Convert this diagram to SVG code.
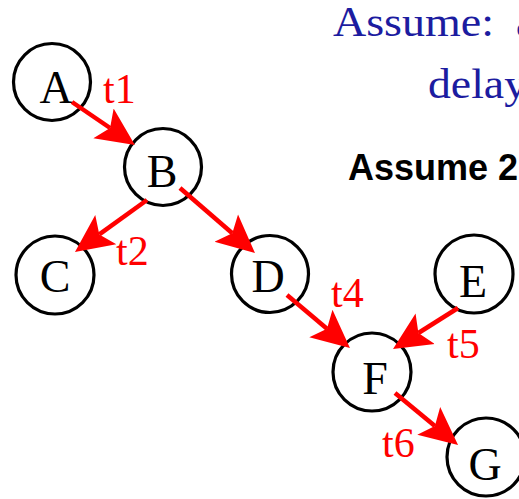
<svg xmlns="http://www.w3.org/2000/svg" width="519" height="499" viewBox="0 0 519 499">
<style>
.node circle{fill:#fff;stroke:#000;stroke-width:3.2}
.node text{font-family:"Liberation Serif","Times New Roman",serif;font-size:46px;fill:#000;text-anchor:middle}
.edge line{stroke:#ff0000;stroke-width:4.5}
.lbl{font-family:"Liberation Serif","Times New Roman",serif;font-size:42px;fill:#ff0000}
.blue{font-family:"Liberation Serif","Times New Roman",serif;font-size:42px;fill:#1c1ca0}
.bold{font-family:"Liberation Sans",Arial,sans-serif;font-size:36px;font-weight:bold;fill:#000}
</style>
<defs>
<marker id="ah" markerUnits="userSpaceOnUse" markerWidth="40" markerHeight="40" viewBox="0 -20 40 40" refX="8" refY="0" orient="auto">
<path d="M0,-18 L38,0 L0,18 L8,0 Z" fill="#ff0000"/>
</marker>
</defs>
<rect width="519" height="499" fill="#fff"/>
<text class="blue" x="333" y="36" textLength="161" lengthAdjust="spacingAndGlyphs">Assume:</text>
<text class="blue" x="516" y="36">a</text>
<text class="blue" x="428" y="98" textLength="99" lengthAdjust="spacingAndGlyphs">delay</text>
<text class="bold" x="348" y="180">Assume 2</text>
<g id="nodeA" class="node"><circle cx="52" cy="82" r="38.5"/><text x="56" y="103">A</text></g>
<g id="nodeB" class="node"><circle cx="163" cy="167" r="38.5"/><text x="162" y="187">B</text></g>
<g id="nodeC" class="node"><circle cx="55" cy="275" r="39"/><text x="55" y="292">C</text></g>
<g id="nodeD" class="node"><circle cx="270" cy="274" r="38.5"/><text x="268" y="292">D</text></g>
<g id="nodeE" class="node"><circle cx="474" cy="274" r="39"/><text x="473" y="297">E</text></g>
<g id="nodeF" class="node"><circle cx="372" cy="372" r="39"/><text x="375" y="394">F</text></g>
<g id="nodeG" class="node"><circle cx="486" cy="457" r="39"/><text x="485" y="480">G</text></g>
<g id="edges" class="edge">
<line x1="72" y1="102" x2="110.1" y2="128" marker-end="url(#ah)"/>
<line x1="147" y1="200" x2="99.3" y2="234.4" marker-end="url(#ah)"/>
<line x1="180" y1="188" x2="232.3" y2="233.3" marker-end="url(#ah)"/>
<line x1="287" y1="295" x2="327" y2="328.7" marker-end="url(#ah)"/>
<line x1="458" y1="308" x2="418.4" y2="333" marker-end="url(#ah)"/>
<line x1="395" y1="393" x2="434.9" y2="425.9" marker-end="url(#ah)"/>
</g>
<g id="labels">
<text class="lbl" x="103" y="103">t1</text>
<text class="lbl" x="116" y="265">t2</text>
<text class="lbl" x="331" y="307">t4</text>
<text class="lbl" x="447" y="358">t5</text>
<text class="lbl" x="382" y="457">t6</text>
</g>
</svg>
